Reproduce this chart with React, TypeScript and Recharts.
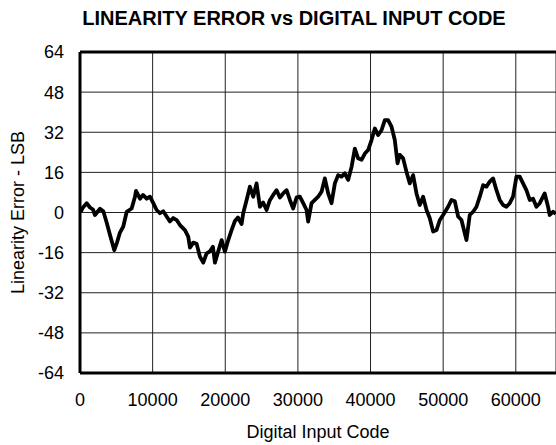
import { LineChart, Line, XAxis, YAxis, CartesianGrid, ReferenceLine } from "recharts";

// digital input code (x) and linearity error in LSB (y)
const codes = [
  100, 410, 920, 1380, 1790, 2060, 2750, 3210, 3670, 4130, 4720, 5090, 5500, 5960, 6430, 7110,
  7570, 7710, 8260, 8670, 9180, 9630, 10090, 10550, 11010, 11460, 11930, 12380, 12840, 13310,
  13760, 14450, 14900, 15140, 15590, 16060, 16510, 16970, 17430, 17890, 18300, 18580, 19030,
  19500, 19950, 20410, 20870, 21330, 21740, 22250, 22470, 22940, 23390, 23850, 24310, 24770,
  25220, 25690, 26140, 26600, 27070, 27520, 27970, 28440, 28900, 29350, 29820, 30270, 30730,
  31190, 31410, 31880, 32340, 32790, 33260, 33710, 34170, 34630, 35090, 35540, 36010, 36460,
  36920, 37390, 37840, 38290, 38760, 39220, 39670, 40140, 40590, 41050, 41510, 41970, 42420,
  42890, 43340, 43720, 44030, 44490, 44950, 45410, 45860, 46330, 46780, 47240, 47710, 48160,
  48620, 49080, 49540, 49990, 50680, 51150, 51600, 52060, 52520, 53210, 53660, 54120, 54590,
  55040, 55500, 55960, 56420, 56870, 57340, 57790, 58250, 58710, 59170, 59620, 60090, 60540,
  61000, 61460, 61920, 62380, 62840, 63300, 63980, 64440, 64670, 65130, 65500,
];

const lsbError = [
  0.3, 2, 3.7, 2, 1.2, -1, 1.5, 0.5, -4, -9, -15, -12, -8, -5.6, 0.3, 1.6,
  6.3, 8.6, 5.5, 7, 5.5, 6.3, 3.7, 1, -0.3, 0.5, -1.6, -3.6, -2.2, -3,
  -5, -7, -9.6, -14, -12, -12.5, -17.6, -20, -16.3, -15.5, -13.7, -20, -15.5,
  -11, -15.6, -11, -7, -3.4, -2, -4.6, -0.3, 5, 10.3, 6.3, 11.6, 2.3,
  4, 1, 4.9, 7, 8.9, 6, 7.6, 8.9, 5, 1.6, 6, 6.3, 3.7,
  1, -3.6, 3.7, 5, 6.3, 8.3, 13.6, 7.6, 3.7, 11.6, 14.9, 14.3, 15.6,
  13, 18.2, 25.5, 21.6, 21, 23.5, 24.9, 28.9, 33.5, 30.9, 32.8, 36.8, 36.8,
  34.2, 28.9, 19.6, 23, 21.6, 16.2, 11.6, 14.9, 7.6, 3, 6.3, 1, -2.3,
  -7.6, -7, -3, -1, 2.3, 5, 4.5, -1.6, -3, -11, -1, 0.3, 2.3,
  6.3, 10.9, 10.3, 12.3, 13.6, 8.9, 5, 3, 2.3, 3.7, 6.3, 14.3, 14.3,
  11.6, 8.9, 5, 5.5, 2.3, 3.7, 7.6, 2.3, -1, 0.3, -0.5,
];

const xTicks = [0, 10000, 20000, 30000, 40000, 50000, 60000];
const yTicks = [-64, -48, -32, -16, 0, 16, 32, 48, 64];

const data = codes.map((code, i) => ({ code, err: lsbError[i] }));

const font = "'Liberation Sans', Arial, sans-serif";

export default function App() {
  return (
    <div
      style={{
        position: "absolute",
        top: 0,
        left: 0,
        width: 556,
        height: 445,
        overflow: "hidden",
        background: "#fff",
        fontFamily: font,
      }}
    >
      <div
        style={{
          position: "absolute",
          top: 8,
          left: 294,
          transform: "translateX(-50%)",
          whiteSpace: "nowrap",
          fontSize: 20,
          lineHeight: "20px",
          fontWeight: "bold",
          color: "#000",
        }}
      >
        LINEARITY ERROR vs DIGITAL INPUT CODE
      </div>
      <LineChart width={556} height={445} data={data} margin={{ top: 52, right: 0, bottom: 0, left: 0 }}>
        <CartesianGrid stroke="#222" strokeWidth={1} />
        <XAxis
          dataKey="code"
          type="number"
          domain={[0, 65536]}
          ticks={xTicks}
          interval={0}
          height={72}
          axisLine={{ stroke: "#000", strokeWidth: 3 }}
          tickLine={false}
          tickSize={0}
          tickMargin={20}
          tick={{ fill: "#000", fontSize: 18, fontFamily: font }}
          label={{ value: "Digital Input Code", position: "insideBottom", offset: 7, fill: "#000", fontSize: 18, fontFamily: font }}
        />
        <YAxis
          type="number"
          domain={[-64, 64]}
          ticks={yTicks}
          interval={0}
          width={80}
          axisLine={{ stroke: "#000", strokeWidth: 3 }}
          tickLine={false}
          tickSize={0}
          tickMargin={16}
          tick={{ fill: "#000", fontSize: 18, fontFamily: font }}
          label={{
            value: "Linearity Error - LSB",
            angle: -90,
            position: "insideLeft",
            offset: 17.5,
            fill: "#000",
            fontSize: 18,
            fontFamily: font,
            style: { textAnchor: "middle" },
          }}
        />
        <ReferenceLine y={64} stroke="#000" strokeWidth={3} />
        <Line
          type="linear"
          dataKey="err"
          stroke="#000"
          strokeWidth={3.8}
          strokeLinejoin="round"
          dot={false}
          isAnimationActive={false}
        />
      </LineChart>
    </div>
  );
}
